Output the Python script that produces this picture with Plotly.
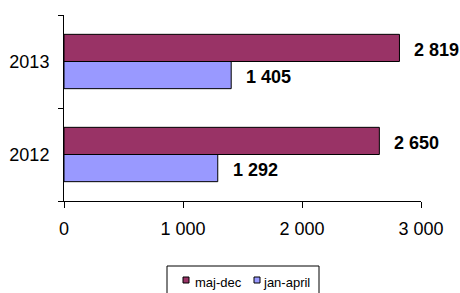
import plotly.graph_objects as go

years = ["2012", "2013"]
jan_april = [1292, 1405]
maj_dec = [2650, 2819]
x_ticks = [0, 1000, 2000, 3000]
x_tick_labels = ["0", "1 000", "2 000", "3 000"]
series_names = ["maj-dec", "jan-april"]
series_colors = ["#993366", "#9999FF"]

FONT = "Liberation Sans, Arial, sans-serif"

def fmt(v):
    return f"{v:,}".replace(",", " ")

fig = go.Figure()
fig.add_trace(go.Bar(
    y=years, x=jan_april, name=series_names[1], orientation="h",
    marker=dict(color=series_colors[1], line=dict(color="black", width=1)),
    hoverinfo="x+name",
))
fig.add_trace(go.Bar(
    y=years, x=maj_dec, name=series_names[0], orientation="h",
    marker=dict(color=series_colors[0], line=dict(color="black", width=1)),
    hoverinfo="x+name",
))

# value labels
for i, y in enumerate(years):
    for vals, off in ((jan_april, -0.145), (maj_dec, 0.145)):
        fig.add_annotation(
            x=vals[i], y=i + off, xref="x", yref="y",
            text=f"<b>{fmt(vals[i])}</b>", showarrow=False,
            xanchor="left", yanchor="middle", xshift=13, yshift=-2,
            font=dict(family=FONT, size=18, color="black"),
        )

# plot area in pixels: x 64..421, y 15..201
L, R, T, B = 64, 421, 15, 201
def px(x):
    return (x - L) / (R - L)
def py(y):
    return (B - y) / (B - T)

# manual legend (box partly cut off by the bottom edge, as in the reference)
fig.add_shape(type="rect", xref="paper", yref="paper",
              x0=px(167), x1=px(319), y0=py(300), y1=py(266),
              line=dict(color="black", width=1), fillcolor="white")
legend_pos = [(183, 193), (254, 261)]
for name, col, (sx, tx) in zip(series_names, series_colors, legend_pos):
    fig.add_shape(type="rect", xref="paper", yref="paper",
                  x0=px(sx), x1=px(sx + 6), y0=py(283), y1=py(277),
                  line=dict(color="black", width=1), fillcolor=col)
    fig.add_annotation(x=px(tx), y=py(282.5), xref="paper", yref="paper",
                       text=name, showarrow=False, xanchor="left",
                       yanchor="middle",
                       font=dict(family=FONT, size=13, color="black"))

fig.update_layout(
    width=460, height=293,
    margin=dict(l=L, r=460 - R, t=T, b=293 - B, autoexpand=False),
    paper_bgcolor="white", plot_bgcolor="white",
    barmode="group", bargap=0.416, bargroupgap=0,
    font=dict(family=FONT, size=18, color="black"),
    showlegend=False,
    xaxis=dict(
        range=[0, 3000], tickvals=x_ticks, ticktext=x_tick_labels,
        showgrid=False, zeroline=False,
        showline=True, linecolor="black", linewidth=1,
        ticks="outside", ticklen=6, tickcolor="black",
        ticklabelstandoff=5,
        fixedrange=True,
    ),
    yaxis=dict(
        range=[-0.5, 1.5], tickson="boundaries",
        showgrid=False, zeroline=False,
        showline=True, linecolor="black", linewidth=1,
        ticks="outside", ticklen=5, tickcolor="black",
        ticklabelstandoff=10,
        fixedrange=True,
    ),
)

fig.write_html(
    "out.html",
    config={"displayModeBar": False},
    post_script="document.body.style.margin='0';document.body.style.overflow='hidden';",
)
